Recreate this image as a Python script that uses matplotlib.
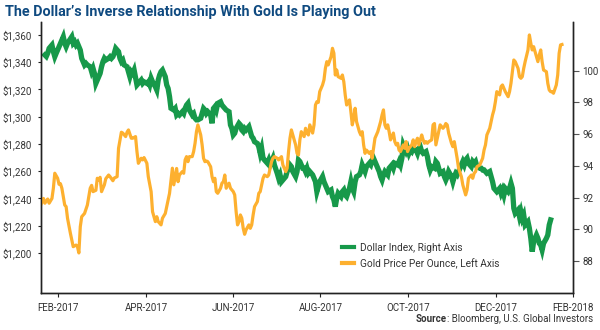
import matplotlib
matplotlib.use('Agg')
import matplotlib.pyplot as plt
from matplotlib.lines import Line2D

# time axis: day index along the chart (0 = left edge, ~Jan 19 2017)
gold_day = [
    0, 2, 3, 5, 6, 8, 9, 10, 12, 13,
    14, 15, 17, 18, 19, 21, 23, 25, 26, 27,
    28, 29, 31, 33, 35, 36, 37, 39, 40, 41,
    42, 43, 45, 46, 48, 49, 51, 52, 54, 55,
    57, 58, 60, 61, 62, 64, 65, 67, 68, 69,
    71, 72, 73, 75, 76, 78, 79, 81, 82, 83,
    85, 86, 88, 89, 91, 93, 94, 95, 96, 97,
    98, 100, 101, 102, 103, 104, 105, 107, 108, 109,
    110, 111, 113, 114, 115, 116, 117, 118, 120, 121,
    122, 123, 124, 125, 127, 128, 129, 130, 131, 132,
    133, 134, 136, 137, 138, 139, 140, 141, 142, 143,
    144, 145, 147, 148, 149, 150, 151, 153, 154, 155,
    156, 157, 158, 160, 161, 162, 163, 164, 165, 167,
    168, 169, 170, 171, 173, 174, 175, 176, 177, 178,
    180, 181, 182, 183, 184, 186, 187, 188, 189, 190,
    192, 193, 194, 195, 196, 197, 199, 200, 201, 202,
    203, 205, 206, 207, 208, 209, 210, 212, 213, 214,
    215, 216, 218, 219, 220, 221, 222, 223, 225, 226,
    227, 228, 229, 230, 232, 233, 234, 235, 236, 238,
    239, 240, 241, 242, 243, 244, 245, 246, 247, 249,
    250, 251, 252, 253, 254, 256, 257, 258, 259, 260,
    262, 263, 264, 265, 266, 267, 269, 270, 271, 272,
    273, 274, 276, 277, 278, 279, 280, 281, 282, 284,
    285, 286, 287, 288, 290, 291, 292, 293, 294, 295,
    297, 298, 299, 300, 301, 302, 304, 305, 306, 307,
    308, 310, 311, 312, 313, 314, 315, 317, 318, 319,
    320, 321, 322, 324, 325, 326, 327, 328, 330, 331,
    332, 333, 334, 335, 337, 338, 339, 340, 341, 342,
    344, 345, 346, 347, 348, 350, 351, 352, 353, 354,
    355, 357, 358, 359, 360, 361, 362, 364, 365, 366,
    367, 368,
]
gold_price = [
    1235, 1240, 1236.5, 1239.6, 1236.5, 1240, 1247.5, 1258.5, 1254.8, 1250.4,
    1250.8, 1247.5, 1235.2, 1234, 1225.4, 1214.5, 1204.6, 1205.8, 1204.6, 1200,
    1219.3, 1226.6, 1229, 1235.2, 1247.5, 1249.6, 1245, 1246, 1254.8, 1253.6,
    1255.5, 1245, 1250, 1254.5, 1257.2, 1256, 1253, 1255, 1256, 1276.8,
    1288.6, 1288, 1285.4, 1288.6, 1290.3, 1284.2, 1284.2, 1285.4, 1274.4, 1265.8,
    1269.5, 1268.3, 1270, 1265.8, 1256, 1245, 1230.3, 1223, 1226.6, 1223,
    1220.6, 1225.5, 1229, 1234, 1243.8, 1262.2, 1250, 1256, 1262, 1252.3,
    1257.2, 1259.7, 1258.5, 1268.3, 1270.7, 1267, 1270.7, 1270.7, 1274.4, 1280.5,
    1289, 1294, 1286.6, 1279.3, 1269.5, 1267, 1267.5, 1267, 1263.3, 1256,
    1252.3, 1254.8, 1245, 1243.8, 1247.5, 1251.2, 1252.3, 1257.2, 1247.5, 1250,
    1251.2, 1247.5, 1245, 1242.6, 1230.3, 1220.6, 1223, 1227.9, 1225.5, 1218.1,
    1213.7, 1216.9, 1220.6, 1218.1, 1220.6, 1227.9, 1234, 1237.7, 1243.8, 1245,
    1250, 1254.8, 1257.2, 1256, 1257.2, 1262.2, 1267, 1269.5, 1270.7, 1269.5,
    1268.3, 1269.5, 1270.7, 1264.6, 1259.7, 1262.2, 1274.4, 1284.2, 1290.3, 1286.6,
    1279.3, 1273.1, 1271.9, 1283, 1289, 1285.4, 1291.5, 1288, 1286.6, 1294,
    1288, 1294, 1308.6, 1311, 1310.5, 1318.4, 1323.3, 1327, 1335.5, 1340.4,
    1338, 1344, 1350.2, 1346.6, 1330.6, 1334.3, 1329.4, 1328.2, 1330.6, 1325.7,
    1316, 1308.6, 1312.3, 1303.7, 1294, 1298.9, 1306.2, 1296.4, 1289, 1286.6,
    1289, 1279.3, 1273.1, 1275.5, 1273.1, 1274.4, 1269.5, 1276.8, 1284.2, 1289,
    1292.7, 1296.4, 1301.3, 1305, 1294, 1291.5, 1294, 1289, 1283, 1288,
    1281.7, 1279.3, 1280.5, 1275.5, 1274.4, 1279.3, 1276.8, 1281.7, 1274.4, 1276.8,
    1279.3, 1283, 1278, 1281.7, 1284.2, 1279.3, 1286.6, 1283, 1280.5, 1281.7,
    1280.5, 1281.7, 1283, 1294, 1295, 1279.3, 1284.2, 1289, 1294, 1291.5,
    1292.7, 1295, 1294, 1288, 1280.5, 1278, 1281.7, 1275.5, 1269.5, 1262.2,
    1256, 1250, 1246.3, 1242.6, 1246.3, 1254.8, 1257.2, 1254.8, 1258.5, 1259.7,
    1263.3, 1264.6, 1267, 1269.5, 1275.5, 1279.3, 1286.6, 1291.5, 1296.4, 1301.3,
    1305, 1311, 1318.4, 1316, 1322.1, 1323.3, 1320.8, 1318.4, 1314.7, 1318.4,
    1324.5, 1333, 1341.6, 1340.4, 1335.5, 1329.4, 1328.2, 1329.4, 1335.5, 1340.4,
    1349, 1360, 1353.9, 1349, 1351.4, 1344, 1340.4, 1345.3, 1349, 1340.4,
    1334.3, 1333, 1324.5, 1319.6, 1318.4, 1318.4, 1317.2, 1323.3, 1330.6, 1346.6,
    1352.7, 1353,
]

dollar_day = [
    3, 4, 5, 6, 8, 9, 10, 11, 12, 13, 15,
    16, 17, 18, 19, 21, 22, 23, 24, 25, 26, 28,
    29, 30, 31, 32, 33, 35, 36, 37, 38, 39, 41,
    42, 43, 44, 45, 46, 48, 49, 50, 51, 52, 53,
    55, 56, 57, 58, 59, 61, 62, 63, 64, 65, 66,
    68, 69, 70, 71, 72, 73, 75, 76, 77, 78, 79,
    81, 82, 83, 84, 85, 86, 88, 89, 90, 91, 92,
    94, 95, 96, 97, 98, 100, 101, 102, 103, 104,
    105, 107, 108, 109, 110, 111, 113, 114, 115, 116,
    117, 118, 120, 121, 122, 123, 124, 125, 127, 128,
    129, 130, 131, 133, 134, 135, 136, 137, 138, 140,
    141, 142, 143, 144, 145, 147, 148, 149, 150, 151,
    153, 154, 155, 156, 157, 158, 160, 161, 162, 163,
    164, 165, 167, 168, 169, 170, 171, 173, 174, 175,
    176, 177, 178, 180, 181, 182, 183, 184, 185,
    186, 187, 188, 189, 190, 192, 193, 194, 195, 196,
    197, 199, 200, 201, 202, 203, 205, 206, 207, 208,
    209, 210, 212, 213, 214, 215, 216, 218, 219, 220,
    221, 222, 223, 225, 226, 227, 228, 229, 230, 232,
    233, 234, 235, 236, 238, 239, 240, 241, 242, 243,
    245, 246, 247, 248, 249, 250, 252, 253, 254, 255,
    256, 258, 259, 260, 261, 262, 263, 265, 266, 267,
    268, 269, 270, 272, 273, 274, 275, 276, 278, 279,
    280,
    281, 282, 284, 285, 286, 287, 288, 290, 291, 292,
    293, 294, 295, 297, 298, 299, 300, 301, 302, 304,
    305, 306, 307, 308, 310, 311, 312, 313, 314, 315,
    317, 318, 319, 320, 321, 322, 324, 325, 326, 327,
    328, 330, 331, 332, 333, 334, 335, 337, 338, 339,
    340, 341, 342, 344, 345, 346, 347, 348, 350, 351,
    352, 353, 354, 355, 357, 358, 359, 360,
]
dollar_index = [
    100.99, 100.9, 101.1, 101.41, 101.62, 101.2, 100.88, 101.1, 101.3, 101.51, 101.94,
    102.14, 101.73, 101.51, 101.73, 102.0, 102.14, 101.73, 101.83, 101.62, 101.73, 101.3,
    100.78, 100.57, 100.36, 100.46, 100.36, 100.25, 99.94, 100.15, 99.83, 99.2, 99.62,
    99.83, 100.25, 100.57, 100.78, 100.67, 100.78, 100.88, 100.78, 100.88, 101.1, 101.41,
    101.2, 100.78, 100.57, 100.67, 100.36, 100.25, 99.94, 99.62, 99.94, 99.83, 100.04,
    99.1, 99.2, 99.3, 99.41, 99.2, 99.3, 99.2, 99.3, 99.1, 99.52, 99.3,
    98.99, 98.78, 99.41, 99.73, 99.94, 100.04, 99.62, 99.1, 98.88, 98.36, 97.63,
    97.52, 97.62, 97.21, 97.3, 97.21, 97.41, 97.3, 97.62, 97.83, 97.94,
    97.52, 97.21, 97.3, 97.0, 96.9, 96.9, 97.0, 97.3, 97.62, 97.52,
    97.3, 97.41, 97.21, 96.68, 97.62, 97.73, 97.52, 97.94, 98.04, 97.83,
    97.73, 97.62, 97.52, 97.41, 96.58, 96.36, 95.95, 96.06, 96.36, 96.68,
    96.58, 96.26, 96.16, 96.36, 96.26, 96.47, 96.16, 95.85, 95.74, 95.52,
    95.41, 95.2, 94.79, 95.1, 94.48, 94.37, 94.17, 94.37, 94.06, 94.27,
    94.48, 94.06, 93.53, 93.22, 93.43, 93.0, 93.11, 93.32, 93.64, 93.85,
    94.06, 93.95, 93.64, 93.32, 93.64, 94.37, 94.27, 94.06, 93.85,
    93.85, 93.64, 93.85, 93.53, 93.64, 93.43, 93.22, 93.0, 92.37, 92.69,
    93.0, 93.32, 93.0, 92.79, 92.58, 92.37, 92.48, 92.06, 91.85, 91.43,
    91.95, 92.27, 92.06, 92.37, 92.48, 92.16, 92.06, 92.58, 93.0, 92.58,
    92.37, 93.0, 93.32, 93.43, 93.64, 94.06, 93.85, 93.64, 93.95, 94.16,
    94.06, 94.37, 94.48, 94.27, 93.85, 93.64, 93.32, 93.11, 93.43, 93.64,
    93.43, 93.85, 93.95, 94.06, 93.85, 94.16, 94.06, 94.27, 94.06, 94.48,
    95.32, 94.9, 95.1, 94.79, 95.0, 94.9, 95.1, 95.0, 94.79, 95.1,
    95.2, 94.9, 94.79, 94.9, 94.58, 94.06, 93.74, 93.95, 93.85, 94.27,
    94.16,
    93.85, 93.53, 93.64, 93.32, 93.11, 93.32, 93.64, 93.32, 93.0, 93.32,
    93.53, 93.43, 93.64, 94.06, 94.27, 94.06, 94.37, 94.48, 94.16, 93.95,
    94.27, 94.16, 94.27, 93.95, 93.85, 93.85, 93.74, 93.74, 93.64, 93.53,
    93.64, 93.32, 93.0, 92.58, 92.48, 92.37, 92.58, 92.27, 92.48, 92.16,
    92.58, 92.37, 92.58, 92.9, 92.58, 91.32, 91.01, 91.22, 90.8, 91.11,
    90.69, 90.9, 90.27, 90.48, 90.06, 89.43, 88.59, 89.22, 89.64, 89.43,
    89.11, 89.01, 88.69, 89.11, 89.43, 89.64, 90.27, 90.59,
]

tick_days = [12.6, 74.4, 136.0, 197.5, 259.6, 321.1, 375.7]
tick_labels = ['FEB-2017', 'APR-2017', 'JUN-2017', 'AUG-2017',
               'OCT-2017', 'DEC-2017', 'FEB-2018']
left_ticks = [1200, 1220, 1240, 1260, 1280, 1300, 1320, 1340, 1360]
right_ticks = [88, 90, 92, 94, 96, 98, 100]

GREEN = '#17994a'
GOLD = '#fdb02f'
TEXT = '#333333'


def main():
    '''Gold price (left axis) against the dollar index (right axis)'''

    assert len(gold_day) == len(gold_price)
    assert len(dollar_day) == len(dollar_index)

    plt.rcParams['font.family'] = ['Roboto', 'DejaVu Sans']

    fig = plt.figure(figsize=(6, 3.3), dpi=100)
    ax = fig.add_axes([0.0682, 0.1121, 0.8866, 0.8212])
    ax2 = ax.twinx()

    ax2.plot(dollar_day, dollar_index, color=GREEN, lw=3.8,
             solid_joinstyle='miter')
    ax.plot(gold_day, gold_price, color=GOLD, lw=2.3)

    # gold drawn above the dollar line
    ax.set_zorder(ax2.get_zorder() + 1)
    ax.patch.set_visible(False)

    ax.set_xlim(0.21, 375.7)
    ax.set_ylim(1170.6, 1369.5)
    ax2.set_ylim(85.98, 103.07)

    ax.set_xticks(tick_days)
    ax.set_xticklabels(tick_labels)
    ax.set_yticks(left_ticks)
    ax.set_yticklabels([f'${v:,}' for v in left_ticks])
    ax2.set_yticks(right_ticks)
    ax2.set_yticklabels([str(v) for v in right_ticks])

    for a in (ax, ax2):
        a.spines['top'].set_visible(False)
        for s in a.spines.values():
            s.set_color('#222222')
            s.set_linewidth(1.0)
    ax.tick_params(axis='x', direction='out', length=3, width=0.8,
                   colors='#222222', labelcolor=TEXT, labelsize=7, pad=4)
    ax.tick_params(axis='y', direction='out', length=2.5, width=0.8,
                   colors='#222222', labelcolor=TEXT, labelsize=7, pad=4)
    ax2.tick_params(axis='y', direction='out', length=4, width=0.8,
                    colors='#555555', labelcolor=TEXT, labelsize=7, pad=3)

    handles = [Line2D([], [], color=GREEN, lw=3),
               Line2D([], [], color=GOLD, lw=3)]
    ax.legend(handles, ['Dollar Index, Right Axis',
                        'Gold Price Per Ounce, Left Axis'],
              loc='upper left', bbox_to_anchor=(0.566, 0.186),
              frameon=False, fontsize=7.3, handlelength=1.2,
              handletextpad=0.6, labelspacing=0.55, borderpad=0,
              borderaxespad=0, labelcolor=TEXT)

    fig.text(0.008, 0.963,
             'The Dollar\u2019s Inverse Relationship With Gold Is Playing Out',
             fontsize=10.4, fontweight='bold', color='#0f4a80', va='center')

    src = fig.text(0.988, 0.032, ': Bloomberg, U.S. Global Investors',
                   fontsize=7, color=TEXT, ha='right', va='center')
    fig.canvas.draw()
    bb = src.get_window_extent()
    fig.text(bb.x0 / fig.bbox.width, 0.032, 'Source', fontsize=7,
             fontweight='bold', color=TEXT, ha='right', va='center')

    fig.savefig('out.png', dpi=100)
    return 0


if __name__ == '__main__':
    main()
